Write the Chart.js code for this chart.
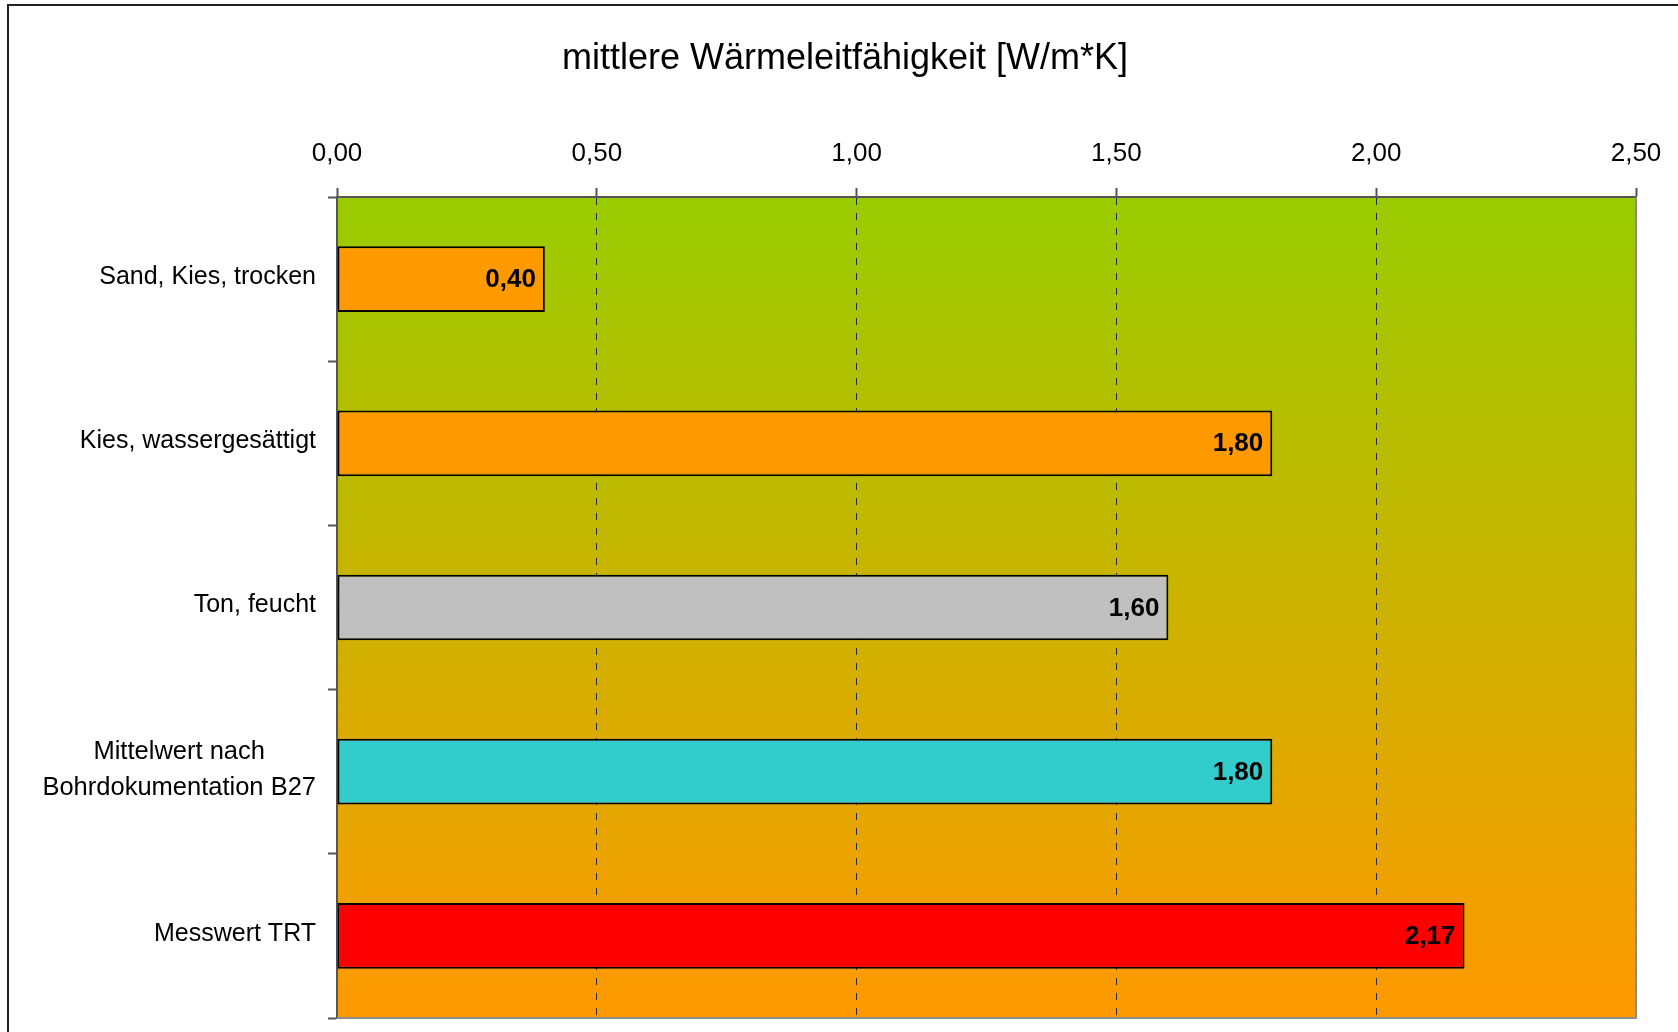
<!DOCTYPE html>
<html>
<head>
<meta charset="utf-8">
<script src="https://cdn.jsdelivr.net/npm/chart.js@4.4.1/dist/chart.umd.min.js"></script>
<style>
  html, body { margin: 0; padding: 0; background: #ffffff; }
  #wrap { position: relative; width: 1678px; height: 1032px; overflow: hidden; }
  canvas { display: block; }
</style>
</head>
<body>
<div id="wrap"><canvas id="c" width="1678" height="1032"></canvas></div>
<script>
const chartTitle = 'mittlere Wärmeleitfähigkeit [W/m*K]';
const categories = [
  'Sand, Kies, trocken',
  'Kies, wassergesättigt',
  'Ton, feucht',
  ['Mittelwert nach', 'Bohrdokumentation B27'],
  'Messwert TRT'
];
const values = [0.40, 1.80, 1.60, 1.80, 2.17];
const barColors = ['#FF9900', '#FF9900', '#C0C0C0', '#33CCCC', '#FF0000'];
const axisMin = 0;
const axisMax = 2.5;
const axisStep = 0.5;

const FONT = '"Liberation Sans", Arial, Helvetica, sans-serif';
Chart.defaults.font.family = FONT;
Chart.defaults.color = '#000';

function fmt(v) { return v.toFixed(2).replace('.', ','); }

const decor = {
  id: 'decor',
  beforeDraw(chart) {
    const {ctx, chartArea: a} = chart;
    ctx.save();
    ctx.fillStyle = '#222';
    ctx.fillRect(7, 4, 2, chart.height - 4);
    ctx.fillRect(7, 4, chart.width - 7, 2);
    const g = ctx.createLinearGradient(0, a.top, 0, a.bottom);
    g.addColorStop(0, '#99CC00');
    g.addColorStop(1, '#FF9900');
    ctx.fillStyle = g;
    ctx.fillRect(a.left, a.top, a.right - a.left, a.bottom - a.top);
    ctx.restore();
  },
  beforeDatasetsDraw(chart) {
    const {ctx, chartArea: a} = chart;
    ctx.save();
    ctx.strokeStyle = '#8c8c8c';
    ctx.lineWidth = 2;
    ctx.beginPath();
    ctx.moveTo(a.right, a.top);
    ctx.lineTo(a.right, a.bottom);
    ctx.lineTo(a.left, a.bottom);
    ctx.stroke();
    ctx.restore();
  },
  afterDatasetsDraw(chart) {
    const {ctx} = chart;
    const meta = chart.getDatasetMeta(0);
    ctx.save();
    ctx.font = 'bold 26px ' + FONT;
    ctx.fillStyle = '#000';
    ctx.textAlign = 'right';
    ctx.textBaseline = 'middle';
    meta.data.forEach((bar, i) => {
      ctx.fillText(fmt(values[i]), bar.x - 9, bar.y + 1);
    });
    ctx.restore();
  },
  afterDraw(chart) {
    const {ctx} = chart;
    const yScale = chart.scales.y;
    const rightX = yScale.right - 9 - 12;
    ctx.save();
    ctx.fillStyle = '#000';
    ctx.textBaseline = 'middle';
    categories.forEach((lab, i) => {
      const cy = yScale.getPixelForValue(i) - 2;
      if (Array.isArray(lab)) {
        ctx.font = '25.5px ' + FONT;
        const lh = 36;
        const maxW = Math.max(...lab.map(s => ctx.measureText(s).width));
        const cx = rightX - maxW / 2;
        ctx.textAlign = 'center';
        lab.forEach((s, k) => {
          ctx.fillText(s, cx, cy + (k - (lab.length - 1) / 2) * lh);
        });
      } else {
        ctx.font = '25px ' + FONT;
        ctx.textAlign = 'right';
        ctx.fillText(lab, rightX, cy);
      }
    });
    ctx.restore();
  }
};

new Chart(document.getElementById('c'), {
  type: 'bar',
  data: {
    labels: categories,
    datasets: [{
      data: values,
      backgroundColor: barColors,
      borderColor: '#000',
      borderWidth: 2,
      borderSkipped: false,
      barPercentage: 0.4,
      categoryPercentage: 1.0
    }]
  },
  options: {
    indexAxis: 'y',
    responsive: false,
    animation: false,
    devicePixelRatio: 1,
    layout: { padding: { left: 54, right: 42, top: 0, bottom: 14 } },
    plugins: {
      legend: { display: false },
      tooltip: { enabled: false },
      title: {
        display: true,
        text: chartTitle,
        color: '#000',
        font: { size: 36, weight: 'normal', family: FONT, lineHeight: 1 },
        padding: { top: 41, bottom: 0 }
      }
    },
    scales: {
      x: {
        position: 'top',
        min: axisMin,
        max: axisMax,
        afterFit(scale) {
          scale.height = 120;
          scale.paddingLeft = 0;
          scale.paddingRight = 0;
        },
        afterBuildTicks(scale) {
          const t = [];
          for (let v = axisMin; v <= axisMax + 1e-9; v += axisStep) t.push({ value: +v.toFixed(2) });
          scale.ticks = t;
        },
        ticks: {
          callback: (v) => fmt(v),
          font: { size: 26, family: FONT },
          color: '#000',
          padding: 19,
          maxRotation: 0
        },
        grid: {
          color: '#2a2a2a',
          lineWidth: 1,
          drawTicks: true,
          tickLength: 9,
          tickColor: '#555',
          tickWidth: 2,
          tickBorderDash: []
        },
        border: { display: true, color: '#555', width: 2, dash: [7, 8] }
      },
      y: {
        afterFit(scale) { scale.width = 283; },
        ticks: { display: false },
        grid: {
          offset: true,
          drawOnChartArea: false,
          drawTicks: true,
          tickLength: 9,
          tickColor: '#555',
          tickWidth: 2
        },
        border: { display: true, color: '#555', width: 2 }
      }
    }
  },
  plugins: [decor]
});
</script>
</body>
</html>
